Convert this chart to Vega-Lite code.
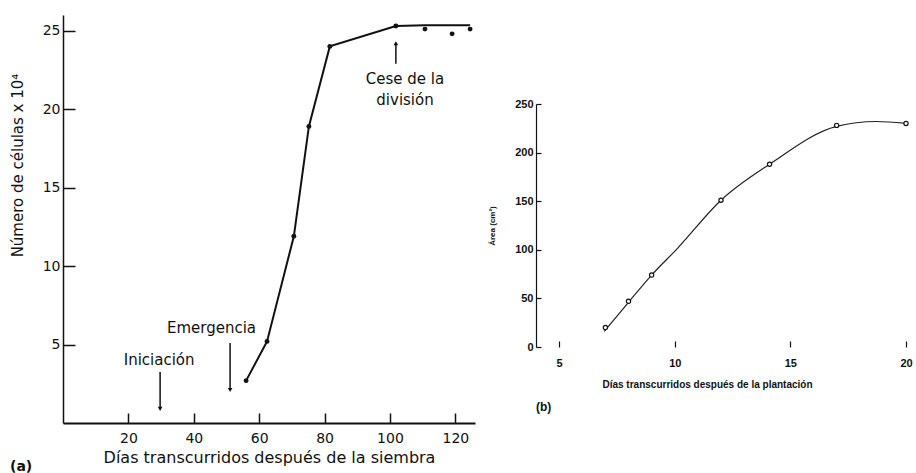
{
  "$schema": "https://vega.github.io/schema/vega-lite/v6.json",
  "background": "white",
  "padding": {"left": 10, "top": 15, "right": 5, "bottom": 0},
  "config": {
    "view": {"stroke": null},
    "font": "Liberation Sans",
    "axis": {"grid": false, "labelColor": "#111", "titleColor": "#111", "domainColor": "#111", "tickColor": "#111", "labelFont": "Liberation Sans", "titleFont": "Liberation Sans", "titleFontWeight": "normal", "labelFlush": false, "labelOverlap": false}
  },
  "datasets": {
    "ptsA": [
      {"dias": 56, "n": 2.7}, {"dias": 62.4, "n": 5.2}, {"dias": 70.6, "n": 11.9}, {"dias": 75.2, "n": 18.9},
      {"dias": 81.6, "n": 24.0}, {"dias": 101.8, "n": 25.3}, {"dias": 110.7, "n": 25.1}, {"dias": 119, "n": 24.8}, {"dias": 124.5, "n": 25.1}
    ],
    "curveA": [
      {"dias": 56, "n": 2.7}, {"dias": 62.4, "n": 5.2}, {"dias": 70.6, "n": 11.9}, {"dias": 75.2, "n": 18.9},
      {"dias": 81.6, "n": 24.0}, {"dias": 101.8, "n": 25.3}, {"dias": 110.7, "n": 25.35}, {"dias": 124.5, "n": 25.35}
    ],
    "notesA": [
      {"label": "Iniciación", "dias": 29.4, "n": 4.0},
      {"label": "Emergencia", "dias": 45.4, "n": 6.05},
      {"label": "Cese de la", "dias": 104.6, "n": 21.9},
      {"label": "división", "dias": 104.6, "n": 20.57}
    ],
    "arrowsA": [
      {"evento": "Iniciación", "dias": 29.7, "desde": 3.25, "hasta": 0.9, "dir": "down"},
      {"evento": "Emergencia", "dias": 51.1, "desde": 5.1, "hasta": 2.1, "dir": "down"},
      {"evento": "Cese", "dias": 101.8, "desde": 22.9, "hasta": 24.2, "dir": "up"}
    ],
    "ptsB": [
      {"dias": 7, "area": 20}, {"dias": 8, "area": 47}, {"dias": 9, "area": 74}, {"dias": 12, "area": 151},
      {"dias": 14.1, "area": 188}, {"dias": 17, "area": 228}, {"dias": 20, "area": 230}
    ],
    "curveB": [
      {"dias": 6.95, "area": 16}, {"dias": 8, "area": 46}, {"dias": 9, "area": 74}, {"dias": 10.1, "area": 101},
      {"dias": 12, "area": 151}, {"dias": 14.1, "area": 188}, {"dias": 17, "area": 227}, {"dias": 18.7, "area": 232}, {"dias": 20, "area": 230}
    ]
  },
  "spacing": 13,
  "hconcat": [
    {
      "width": 412,
      "height": 408,
      "title": {"text": "(a)", "orient": "bottom", "anchor": "start", "frame": "bounds", "fontSize": 14, "fontWeight": "bold", "offset": -5, "font": "DejaVu Sans", "color": "#111"},
      "encoding": {
        "x": {"field": "dias", "type": "quantitative", "scale": {"domain": [0, 126], "nice": false},
          "axis": {"values": [20, 40, 60, 80, 100, 120], "title": "Días transcurridos después de la siembra", "tickSize": -10, "tickWidth": 1.5, "labelFont": "DejaVu Sans", "labelFontSize": 14, "titleFont": "DejaVu Sans", "titleFontSize": 16, "domainWidth": 2, "labelPadding": 18, "titlePadding": 4}},
        "y": {"field": "n", "type": "quantitative", "scale": {"domain": [0, 26], "nice": false},
          "axis": {"values": [5, 10, 15, 20, 25], "title": "Número de células x 10⁴", "tickSize": -12, "tickWidth": 1.5, "labelFont": "DejaVu Sans", "labelFontSize": 14, "titleFont": "DejaVu Sans", "titleFontSize": 15, "domainWidth": 1.5, "labelPadding": 15, "titleX": -38, "titleY": 150}}
      },
      "layer": [
        {"data": {"name": "curveA"}, "mark": {"type": "line", "color": "#111", "strokeWidth": 2}},
        {"data": {"name": "ptsA"}, "mark": {"type": "point", "filled": true, "color": "#111", "size": 24, "opacity": 1}},
        {"data": {"name": "arrowsA"}, "mark": {"type": "rule", "color": "#111", "strokeWidth": 1.5},
          "encoding": {"x": {"field": "dias", "type": "quantitative"}, "y": {"field": "desde", "type": "quantitative"}, "y2": {"field": "hasta"}}},
        {"data": {"name": "arrowsA"}, "transform": [{"filter": "datum.dir == 'down'"}],
          "mark": {"type": "point", "shape": "triangle-down", "filled": true, "color": "#111", "size": 22, "opacity": 1},
          "encoding": {"x": {"field": "dias", "type": "quantitative"}, "y": {"field": "hasta", "type": "quantitative"}}},
        {"data": {"name": "arrowsA"}, "transform": [{"filter": "datum.dir == 'up'"}],
          "mark": {"type": "point", "shape": "triangle-up", "filled": true, "color": "#111", "size": 22, "opacity": 1},
          "encoding": {"x": {"field": "dias", "type": "quantitative"}, "y": {"field": "hasta", "type": "quantitative"}}},
        {"data": {"name": "notesA"}, "mark": {"type": "text", "fontSize": 15, "color": "#111", "align": "center", "baseline": "middle", "font": "DejaVu Sans"},
          "encoding": {"text": {"field": "label"}}}
      ]
    },
    {
      "spacing": 0,
      "vconcat": [
        {"width": 370, "height": 83, "data": {"values": []}, "mark": {"type": "point"}, "encoding": {}},
        {
          "width": 370,
          "height": 243,
          "title": {"text": "(b)", "orient": "bottom", "anchor": "start", "frame": "group", "fontSize": 12, "fontWeight": "bold", "offset": 13, "font": "Liberation Sans", "color": "#111"},
          "encoding": {
            "x": {"field": "dias", "type": "quantitative", "scale": {"domain": [4, 20], "nice": false},
              "axis": {"values": [5, 10, 15, 20], "title": "Días transcurridos después de la plantación", "domain": false, "tickSize": -6, "tickWidth": 1.2, "labelFontSize": 11, "labelFontWeight": "bold", "titleFontSize": 10, "titleFontWeight": "bold", "labelPadding": 16, "titlePadding": 11, "titleX": 171}},
            "y": {"field": "area", "type": "quantitative", "scale": {"domain": [0, 250], "nice": false},
              "axis": {"values": [0, 50, 100, 150, 200, 250], "title": "Área (cm²)", "tickSize": -5, "tickWidth": 1.2, "labelFontSize": 11, "labelFontWeight": "bold", "titleFontSize": 8, "titleFontWeight": "bold", "domainWidth": 1.2, "labelPadding": 8, "titleX": -40}}
          },
          "layer": [
            {"mark": {"type": "rule", "color": "#111", "strokeWidth": 1.2},
              "encoding": {"x": {"datum": 5}, "x2": {"datum": 20}, "y": {"datum": 0}}},
            {"data": {"name": "curveB"}, "mark": {"type": "line", "color": "#222", "strokeWidth": 1.2, "interpolate": "monotone"}},
            {"data": {"name": "ptsB"}, "mark": {"type": "point", "filled": true, "fill": "white", "stroke": "#111", "strokeWidth": 1.2, "size": 18, "opacity": 1}}
          ]
        }
      ]
    }
  ]
}
